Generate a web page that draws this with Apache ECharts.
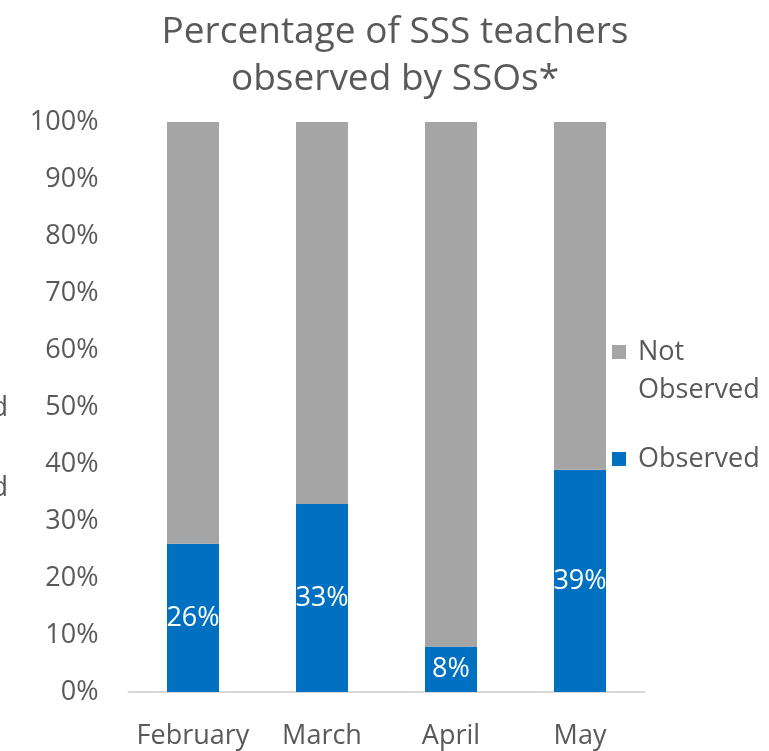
<!DOCTYPE html>
<html><head><meta charset="utf-8">
<script src="https://cdn.jsdelivr.net/npm/echarts@6/dist/echarts.min.js"></script>
<style>html,body{margin:0;padding:0;background:#fff}#c{width:769px;height:751px}</style>
</head><body><div id="c"></div>
<script>
const categories = ['February', 'March', 'April', 'May'];
const observed = [26, 33, 8, 39];
const notObserved = [74, 67, 92, 61];
const yTicks = [0, 10, 20, 30, 40, 50, 60, 70, 80, 90, 100];
const titleText = 'Percentage of SSS teachers\nobserved by SSOs*';

const FONT = '"Open Sans", "Noto Sans", sans-serif';
const TXT = '#595959';
const chart = echarts.init(document.getElementById('c'), null, {renderer: 'canvas'});
chart.setOption({
  animation: false,
  textStyle: {fontFamily: FONT},
  title: {
    text: titleText, left: 390, top: 4, textAlign: 'center',
    textStyle: {fontFamily: FONT, fontSize: 37, fontWeight: 'normal', color: TXT, lineHeight: 47}
  },
  graphic: [
    {type: 'text', x: 8, y: 408, style: {text: 'Observed', fontFamily: FONT, fontSize: 27, fill: TXT, align: 'right', verticalAlign: 'middle'}},
    {type: 'text', x: 8, y: 488, style: {text: 'Observed', fontFamily: FONT, fontSize: 27, fill: TXT, align: 'right', verticalAlign: 'middle'}}
  ],
  legend: {
    orient: 'vertical', left: 607, top: 290, itemWidth: 14, itemHeight: 14, itemGap: 31,
    icon: 'rect',
    data: ['Not Observed', 'Observed'],
    formatter: n => n === 'Not Observed' ? ' \n Not\n Observed' : ' ' + n,
    textStyle: {fontFamily: FONT, fontSize: 27, color: TXT, lineHeight: 38}
  },
  grid: {left: 128.5, right: 124.5, top: 122, bottom: 59, containLabel: false},
  xAxis: {
    type: 'category', data: categories,
    axisLine: {lineStyle: {color: '#d9d9d9', width: 2}},
    axisTick: {show: false},
    axisLabel: {interval: 0, fontFamily: FONT, fontSize: 27, color: TXT, margin: 31}
  },
  yAxis: {
    type: 'value', min: 0, max: 100, interval: 10,
    axisLine: {show: false}, axisTick: {show: false}, splitLine: {show: false},
    axisLabel: {fontFamily: FONT, fontSize: 27, color: TXT, margin: 30, formatter: v => v + '%'}
  },
  series: [
    {name: 'Observed', type: 'bar', stack: 's', data: observed, barWidth: 52,
     itemStyle: {color: '#0070c0'},
     label: {show: true, position: 'inside', formatter: p => p.value + '%', fontFamily: FONT, fontSize: 27, color: '#fff'}},
    {name: 'Not Observed', type: 'bar', stack: 's', data: notObserved, barWidth: 52,
     itemStyle: {color: '#a5a5a5'}}
  ]
});
</script></body></html>
